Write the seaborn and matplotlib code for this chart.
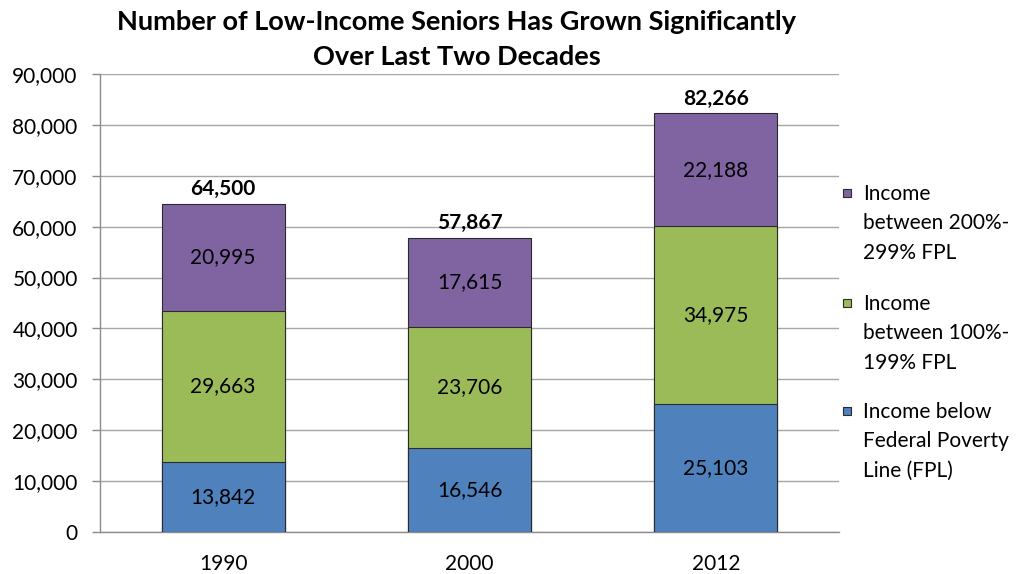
import matplotlib
matplotlib.use("Agg")
import matplotlib.pyplot as plt
import seaborn as sns
import pandas as pd
from matplotlib.patches import Rectangle

# data
years = ["1990", "2000", "2012"]
below_fpl = [13842, 16546, 25103]
fpl_100_199 = [29663, 23706, 34975]
fpl_200_299 = [20995, 17615, 22188]
totals = [64500, 57867, 82266]
labels = ["Income\nbetween 200%-\n299% FPL",
          "Income\nbetween 100%-\n199% FPL",
          "Income below\nFederal Poverty\nLine (FPL)"]

blue = "#4F81BD"
green = "#9BBB59"
purple = "#8064A2"

sns.set_style("white")
plt.rcParams['font.family'] = ['Lato', 'DejaVu Sans']
plt.rcParams['text.color'] = 'black'
plt.rcParams['xtick.labelcolor'] = 'black'
plt.rcParams['ytick.labelcolor'] = 'black'

df = pd.DataFrame({"year": years, "blue": below_fpl,
                   "green": fpl_100_199, "purple": fpl_200_299})
df["lvl1"] = df["blue"]
df["lvl2"] = df["blue"] + df["green"]
df["lvl3"] = df["lvl2"] + df["purple"]

W, H = 1022, 574
fig = plt.figure(figsize=(W / 100, H / 100), dpi=100)
ax = fig.add_axes([0.0978, 0.0732, 0.7232, 0.7978])

# stacked by overlaying cumulative bars, tallest first
for col, c in [("lvl3", purple), ("lvl2", green), ("lvl1", blue)]:
    sns.barplot(data=df, x="year", y=col, color=c, width=0.5, saturation=1,
                edgecolor="#2b2b2b", linewidth=0.8, ax=ax, zorder=3)

ax.set_xlim(-0.5, 2.5)
ax.set_ylim(0, 90000)
ax.set_yticks(range(0, 90001, 10000))
ax.set_yticklabels([f"{v:,}" for v in range(0, 90001, 10000)], fontsize=15)
ax.yaxis.grid(True, color="#a6a6a6", linewidth=1, zorder=0)
ax.set_axisbelow(True)
ax.set_xlabel("")
ax.set_ylabel("")

ax.set_xticks([0, 1, 2])
ax.set_xticklabels(years, fontsize=15)
ax.set_xticks([-0.5, 0.5, 1.5, 2.5], minor=True)
ax.tick_params(axis="x", which="major", length=0, pad=16)
ax.tick_params(axis="x", which="minor", length=6, color="#8c8c8c", width=1, direction="out")
ax.tick_params(axis="y", length=6, color="#8c8c8c", width=1, direction="out", pad=10, left=True)

for s in ["top", "right"]:
    ax.spines[s].set_visible(False)
for s in ["left", "bottom"]:
    ax.spines[s].set_color("#8c8c8c")
    ax.spines[s].set_linewidth(1)

# segment labels
for i in range(len(years)):
    ax.text(i, below_fpl[i] / 2, f"{below_fpl[i]:,}", ha="center", va="center", fontsize=15, zorder=5)
    ax.text(i, below_fpl[i] + fpl_100_199[i] / 2, f"{fpl_100_199[i]:,}", ha="center", va="center", fontsize=15, zorder=5)
    ax.text(i, below_fpl[i] + fpl_100_199[i] + fpl_200_299[i] / 2, f"{fpl_200_299[i]:,}",
            ha="center", va="center", fontsize=15, zorder=5)
    ax.text(i, totals[i] + 900, f"{totals[i]:,}", ha="center", va="bottom",
            fontsize=15, fontweight="bold", zorder=5)

# title, two lines
fig.text(0.447, 1 - 22 / H, "Number of Low-Income Seniors Has Grown Significantly",
         ha="center", va="center", fontsize=19.5, fontweight="bold")
fig.text(0.447, 1 - 57 / H, "Over Last Two Decades",
         ha="center", va="center", fontsize=19.5, fontweight="bold")

# legend drawn by hand so the square sits beside the first line
entry_tops = [193, 303, 411]
for lab, c, y in zip(labels, [purple, green, blue], entry_tops):
    fig.patches.append(Rectangle((843 / W, 1 - (y + 4) / H), 8 / W, 8 / H,
                                 transform=fig.transFigure, facecolor=c,
                                 edgecolor="#2b2b2b", linewidth=0.8))
    fig.text(863 / W, 1 - (y - 9) / H, lab, ha="left", va="top",
             fontsize=15, linespacing=1.58)

fig.savefig("out.png", dpi=100)
